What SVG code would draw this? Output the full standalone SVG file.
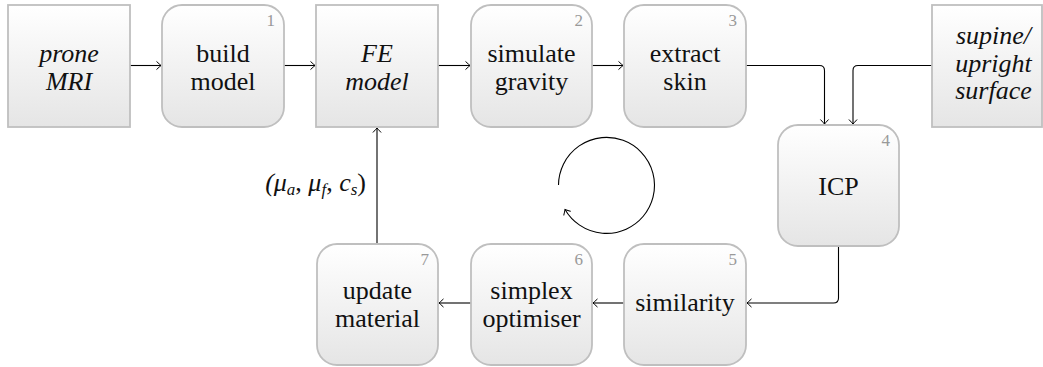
<svg xmlns="http://www.w3.org/2000/svg" width="1043" height="367" viewBox="0 0 1043 367">
<defs>
<linearGradient id="g" x1="0" y1="0" x2="0" y2="1">
<stop offset="0" stop-color="#ffffff"/>
<stop offset="1" stop-color="#e5e5e5"/>
</linearGradient>
<marker id="a" markerUnits="userSpaceOnUse" markerWidth="12" markerHeight="12" viewBox="-6 -6 12 12" refX="0" refY="0" orient="auto" overflow="visible">
<path d="M -4.2 -3.8 Q -1.2 -1 0 0 Q -1.2 1 -4.2 3.8" fill="none" stroke="#000" stroke-width="1" stroke-linecap="round"/>
</marker>
<style>
text{font-family:Liberation Serif,Times New Roman,Times,DejaVu Serif,Noto Serif,serif}
.box{fill:url(#g);stroke:#bfbfbf;stroke-width:1.8}
.t{font-size:26px;fill:#111;text-anchor:middle}
.lab{font-size:26px;fill:#111;text-anchor:end;font-style:italic}
.i{font-style:italic}
.n{font-size:17px;fill:#999;text-anchor:end}
.c{fill:none;stroke:#000;stroke-width:1.1;marker-end:url(#a)}
</style>
</defs>
<g id="connectors">
<path class="c" d="M 130 65.5 H 161"/>
<path class="c" d="M 284 65.5 H 315"/>
<path class="c" d="M 438 65.5 H 470"/>
<path class="c" d="M 592 65.5 H 623"/>
<path class="c" d="M 746 65.5 H 819.5 Q 824.5 65.5 824.5 70.5 V 124"/>
<path class="c" d="M 932 65.5 H 858 Q 853 65.5 853 70.5 V 124"/>
<path class="c" d="M 838.5 246 V 298 Q 838.5 303 833.5 303 H 747"/>
<path class="c" d="M 624 303 H 593"/>
<path class="c" d="M 471 303 H 439"/>
<path class="c" d="M 377 244 V 128"/>
<path class="c" d="M 558.5 185 A 48 48 0 1 1 565 209.5"/>
</g>
<text class="lab" x="366" y="191">(μ<tspan font-size="17" dy="4">a</tspan><tspan dy="-4" font-style="normal">, </tspan>μ<tspan font-size="17" dy="4">f</tspan><tspan dy="-4" font-style="normal">, </tspan>c<tspan font-size="17" dy="4">s</tspan><tspan dy="-4" font-style="normal">)</tspan></text>
<g id="prone">
<rect class="box" x="8" y="5" width="122" height="122"/>
<text class="t i" x="69" y="62">prone</text>
<text class="t i" x="69" y="90">MRI</text>
</g>
<g id="build">
<rect class="box" x="162" y="5" width="122" height="122" rx="20"/>
<text class="n" x="275" y="26">1</text>
<text class="t" x="223" y="62">build</text>
<text class="t" x="223" y="90">model</text>
</g>
<g id="fe">
<rect class="box" x="316" y="5" width="122" height="122"/>
<text class="t i" x="377" y="62">FE</text>
<text class="t i" x="377" y="90">model</text>
</g>
<g id="simulate">
<rect class="box" x="471" y="5" width="121" height="122" rx="20"/>
<text class="n" x="583" y="26">2</text>
<text class="t" x="531.5" y="62">simulate</text>
<text class="t" x="531.5" y="90">gravity</text>
</g>
<g id="extract">
<rect class="box" x="624" y="5" width="122" height="122" rx="20"/>
<text class="n" x="737" y="26">3</text>
<text class="t" x="685" y="62">extract</text>
<text class="t" x="685" y="90">skin</text>
</g>
<g id="supine">
<rect class="box" x="932" y="5" width="110" height="122"/>
<text class="t i" x="993.5" y="44">supine/</text>
<text class="t i" x="993.5" y="71.5">upright</text>
<text class="t i" x="993.5" y="99">surface</text>
</g>
<g id="icp">
<rect class="box" x="778" y="125" width="121" height="121" rx="20"/>
<text class="n" x="890" y="146">4</text>
<text class="t" x="838.5" y="195">ICP</text>
</g>
<g id="similarity">
<rect class="box" x="624" y="244" width="122" height="121" rx="20"/>
<text class="n" x="737" y="265">5</text>
<text class="t" x="685" y="311">similarity</text>
</g>
<g id="simplex">
<rect class="box" x="471" y="244" width="121" height="121" rx="20"/>
<text class="n" x="583" y="265">6</text>
<text class="t" x="531.5" y="299">simplex</text>
<text class="t" x="531.5" y="327">optimiser</text>
</g>
<g id="update">
<rect class="box" x="317" y="244" width="121" height="121" rx="20"/>
<text class="n" x="429" y="265">7</text>
<text class="t" x="377.5" y="299">update</text>
<text class="t" x="377.5" y="327">material</text>
</g>
</svg>
